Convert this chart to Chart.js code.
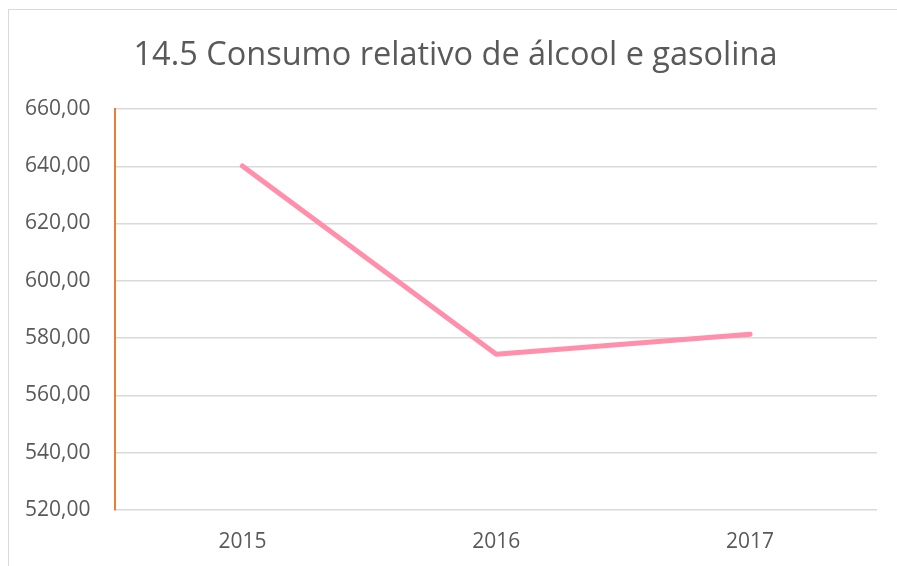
<!DOCTYPE html>
<html>
<head>
<meta charset="utf-8">
<script src="https://cdn.jsdelivr.net/npm/chart.js@4"></script>
<style>
  html, body { margin: 0; padding: 0; background: #fff; overflow: hidden; }
  .frame {
    position: absolute; left: 8px; top: 9px; width: 1000px; height: 1000px;
    border-left: 1px solid #d9d9d9; border-top: 1px solid #d9d9d9;
  }
  .wrap { position: absolute; left: 0; top: 0; width: 911px; height: 580px; }
  .wrap canvas { display: block; }
</style>
</head>
<body>
<div class="frame"></div>
<div class="wrap"><canvas id="chart"></canvas></div>
<script>
// data
const years = ['2015', '2016', '2017'];
const consumo = [640.1, 574.3, 581.3];
const yMin = 520, yMax = 660, yStep = 20;

const textGrey = '#595959';
const fontFamily = '"Open Sans", "Liberation Sans", sans-serif';

// the title in the reference sits a little right of the plot centre
const titleShift = {
    id: 'titleShift',
    afterLayout(chart) {
        if (chart.titleBlock) chart.titleBlock.left += 34;
    }
};

const ctx = document.getElementById('chart').getContext('2d');
new Chart(ctx, {
    type: 'line',
    data: {
        labels: years,
        datasets: [{
            label: 'Consumo relativo',
            data: consumo,
            borderColor: '#ff8fab',
            borderWidth: 5,
            borderCapStyle: 'round',
            borderJoinStyle: 'round',
            pointRadius: 0,
            tension: 0
        }]
    },
    options: {
        responsive: true,
        maintainAspectRatio: false,
        animation: false,
        layout: { padding: { left: 0, right: 34, top: 36, bottom: 13 } },
        plugins: {
            legend: { display: false },
            tooltip: { enabled: false },
            title: {
                display: true,
                text: '14.5 Consumo relativo de álcool e gasolina',
                color: textGrey,
                font: { family: fontFamily, size: 32.5, weight: 'normal' },
                padding: { top: 0, bottom: 34 }
            }
        },
        scales: {
            x: {
                offset: true,
                grid: { display: false },
                border: { display: false },
                ticks: { color: textGrey, font: { family: fontFamily, size: 21 }, padding: 12 }
            },
            y: {
                min: yMin, max: yMax,
                ticks: {
                    stepSize: yStep,
                    color: textGrey,
                    font: { family: fontFamily, size: 21 },
                    padding: 25,
                    callback: v => v.toFixed(2).replace('.', ',')
                },
                grid: { color: '#d9d9d9', lineWidth: 1.5, drawTicks: false },
                border: { color: '#ed7d31', width: 2 }
            }
        }
    },
    plugins: [titleShift]
});
</script>
</body>
</html>
